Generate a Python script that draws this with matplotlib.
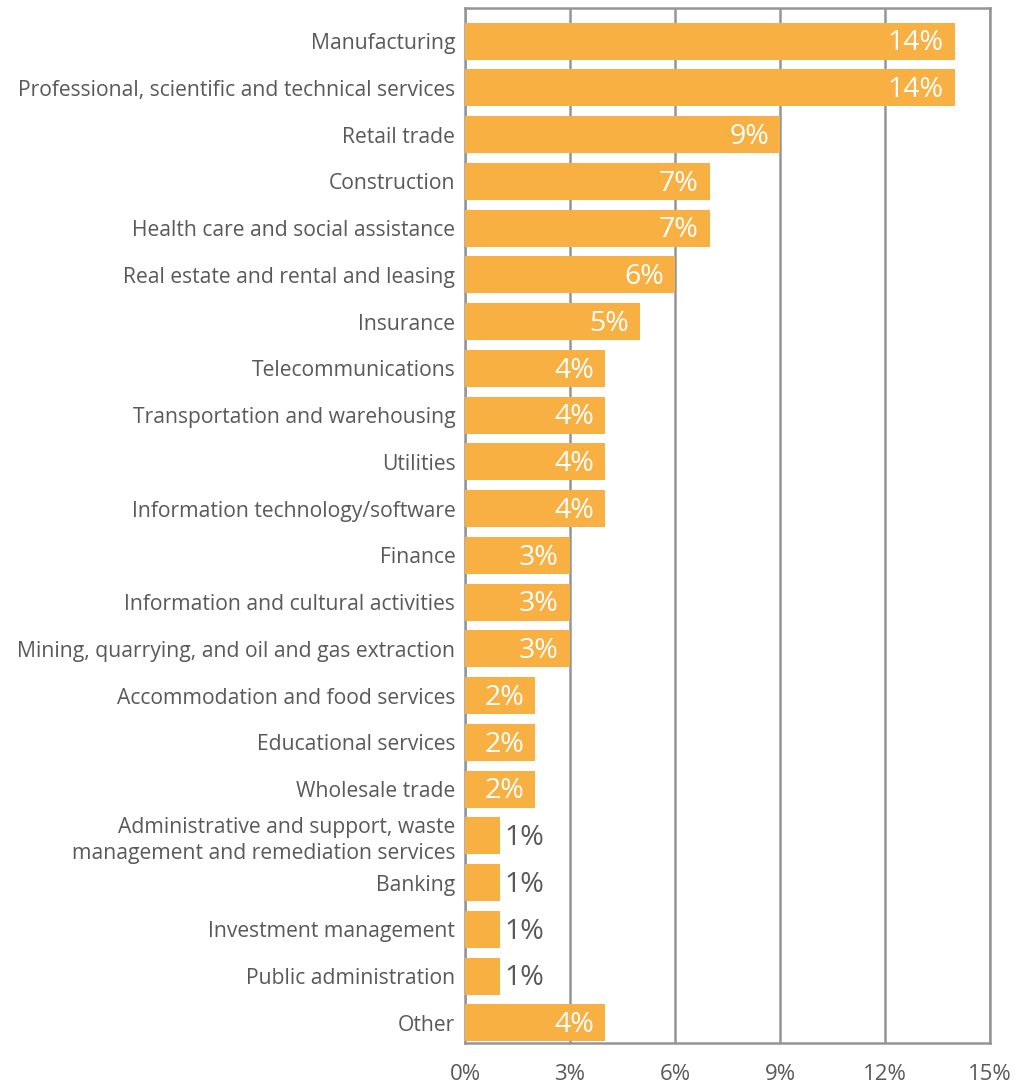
import matplotlib
matplotlib.use("Agg")
import matplotlib.pyplot as plt
from matplotlib.ticker import FuncFormatter

plt.rcParams['font.family'] = ['Open Sans', 'DejaVu Sans']

industries = [
    "Manufacturing",
    "Professional, scientific and technical services",
    "Retail trade",
    "Construction",
    "Health care and social assistance",
    "Real estate and rental and leasing",
    "Insurance",
    "Telecommunications",
    "Transportation and warehousing",
    "Utilities",
    "Information technology/software",
    "Finance",
    "Information and cultural activities",
    "Mining, quarrying, and oil and gas extraction",
    "Accommodation and food services",
    "Educational services",
    "Wholesale trade",
    "Administrative and support, waste\nmanagement and remediation services",
    "Banking",
    "Investment management",
    "Public administration",
    "Other",
]
shares = [14, 14, 9, 7, 7, 6, 5, 4, 4, 4, 4, 3, 3, 3, 2, 2, 2, 1, 1, 1, 1, 4]
x_ticks = [0, 3, 6, 9, 12, 15]

bar_color = "#f9b042"
grid_color = "#939598"
text_color = "#58595b"

fig = plt.figure(figsize=(10.30, 10.83), dpi=100)
ax = fig.add_axes([0.4515, 0.0369, 0.5097, 0.9557])

pos = list(range(len(industries)))
bars = ax.barh(pos, shares, height=0.79, color=bar_color, zorder=3)

ax.set_ylim(len(industries) - 1 + 0.43, -0.71)
ax.set_xlim(0, 15)
ax.set_xticks(x_ticks)
ax.xaxis.set_major_formatter(FuncFormatter(lambda v, _: f"{v:.0f}%"))
ax.set_yticks(pos)
ax.set_yticklabels(industries, fontsize=15.2, color=text_color, linespacing=1.3)
ax.tick_params(axis='y', length=0, pad=7)
ax.tick_params(axis='x', length=0, pad=15, labelsize=16, labelcolor=text_color)

ax.grid(axis='x', color=grid_color, linewidth=1.8, zorder=0)
for s in ax.spines.values():
    s.set_color(grid_color)
    s.set_linewidth(1.8)
    s.set_zorder(1)

# value labels: inside the bar in white, outside in gray for the short ones
for b, v in zip(bars, shares):
    y = b.get_y() + b.get_height() / 2
    if v >= 2:
        ax.annotate(f"{v}%", (v, y), xytext=(-8, -1.5), textcoords="offset points",
                    ha="right", va="center", fontsize=20.5, color="white", zorder=4)
    else:
        ax.annotate(f"{v}%", (v, y), xytext=(3, -1.5), textcoords="offset points",
                    ha="left", va="center", fontsize=20.5, color=text_color, zorder=4)

fig.savefig("out.png", dpi=100)
